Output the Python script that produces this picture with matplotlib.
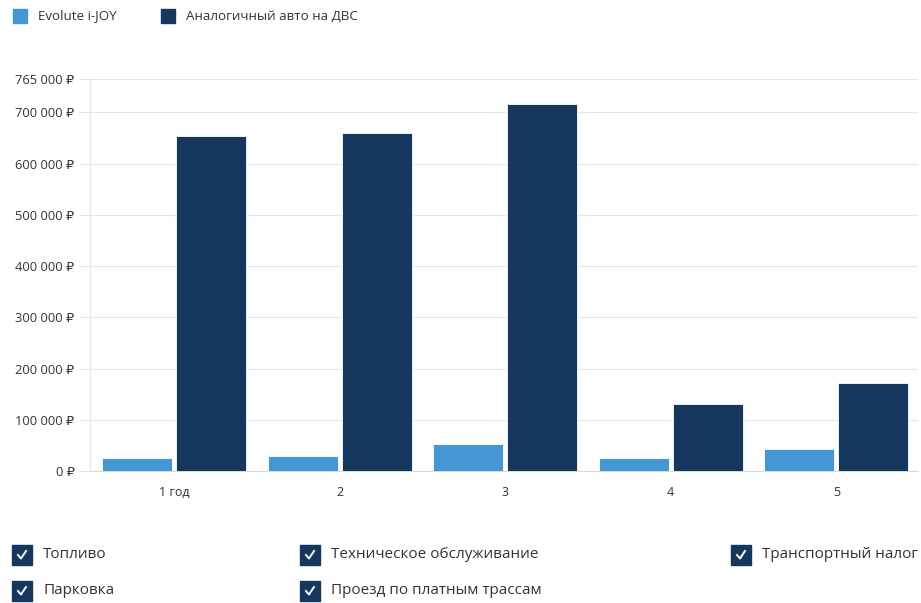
import matplotlib
matplotlib.use("Agg")
from matplotlib import pyplot as plt
from matplotlib.patches import Rectangle
from matplotlib.lines import Line2D
import numpy as np

plt.rcParams['font.family'] = ['Open Sans', 'DejaVu Sans']

years = ['1 год', '2', '3', '4', '5']
ev_costs = [25000, 29000, 53000, 25000, 43000]
ice_costs = [653000, 659000, 717000, 131000, 172000]
y_ticks = [0, 100000, 200000, 300000, 400000, 500000, 600000, 700000, 765000]
series_names = ['Evolute i-JOY', 'Аналогичный авто на ДВС']
options = ['Топливо', 'Техническое обслуживание', 'Транспортный налог',
           'Парковка', 'Проезд по платным трассам']

light = '#4596d4'
dark = '#15365d'
grid = '#e6e6e6'
txt = '#333333'

W, H = 921, 603
fig = plt.figure(figsize=(9.21, 6.03), dpi=100)
ax = fig.add_axes([90 / W, 132 / H, 828 / W, 392 / H])

x = np.arange(len(years))
w = 0.423
ax.bar(x - w / 2 - 0.012, ev_costs, w, color=light, edgecolor='white', linewidth=0.6, zorder=3)
ax.bar(x + w / 2 + 0.012, ice_costs, w, color=dark, edgecolor='white', linewidth=0.6, zorder=3)

ax.set_xlim(-0.507, 4.493)
ax.set_ylim(0, 765000)
ax.set_yticks(y_ticks)
ax.set_yticklabels(['{:,} ₽'.format(v).replace(',', ' ') for v in y_ticks],
                   fontsize=9.3, color=txt)
ax.set_xticks(x)
ax.set_xticklabels(years, fontsize=9, color=txt)
ax.tick_params(axis='x', length=0, pad=11)
ax.tick_params(axis='y', length=8, color=grid, pad=3)
ax.grid(axis='y', color=grid, linewidth=0.8, zorder=0)
for s in ['top', 'right']:
    ax.spines[s].set_visible(False)
ax.spines['left'].set_color(grid)
ax.spines['bottom'].set_color('#d9d9d9')

# top legend
for (px, name, col) in [(13, series_names[0], light), (161, series_names[1], dark)]:
    fig.patches.append(Rectangle((px / W, (H - 23) / H), 14 / W, 14 / H,
                                 color=col, transform=fig.transFigure))
    fig.text((px + 25) / W, (H - 16) / H, name, fontsize=9.6, color=txt, va='center')

# checkbox filters
pos = [(12, 555), (300, 555), (731, 555), (12, 591), (300, 591)]
for (px, py), name in zip(pos, options):
    fig.patches.append(Rectangle((px / W, (H - py - 10) / H), 20 / W, 20 / H,
                                 color=dark, transform=fig.transFigure))
    cx = [px + 6, px + 9, px + 14]
    cy = [py, py + 3.5, py - 4]
    fig.lines.append(Line2D([c / W for c in cx], [(H - c) / H for c in cy],
                            color='white', linewidth=1.4, transform=fig.transFigure))
    fig.text((px + 31) / W, (H - py) / H, name, fontsize=11, color=txt, va='center')

fig.savefig('out.png', dpi=100)
